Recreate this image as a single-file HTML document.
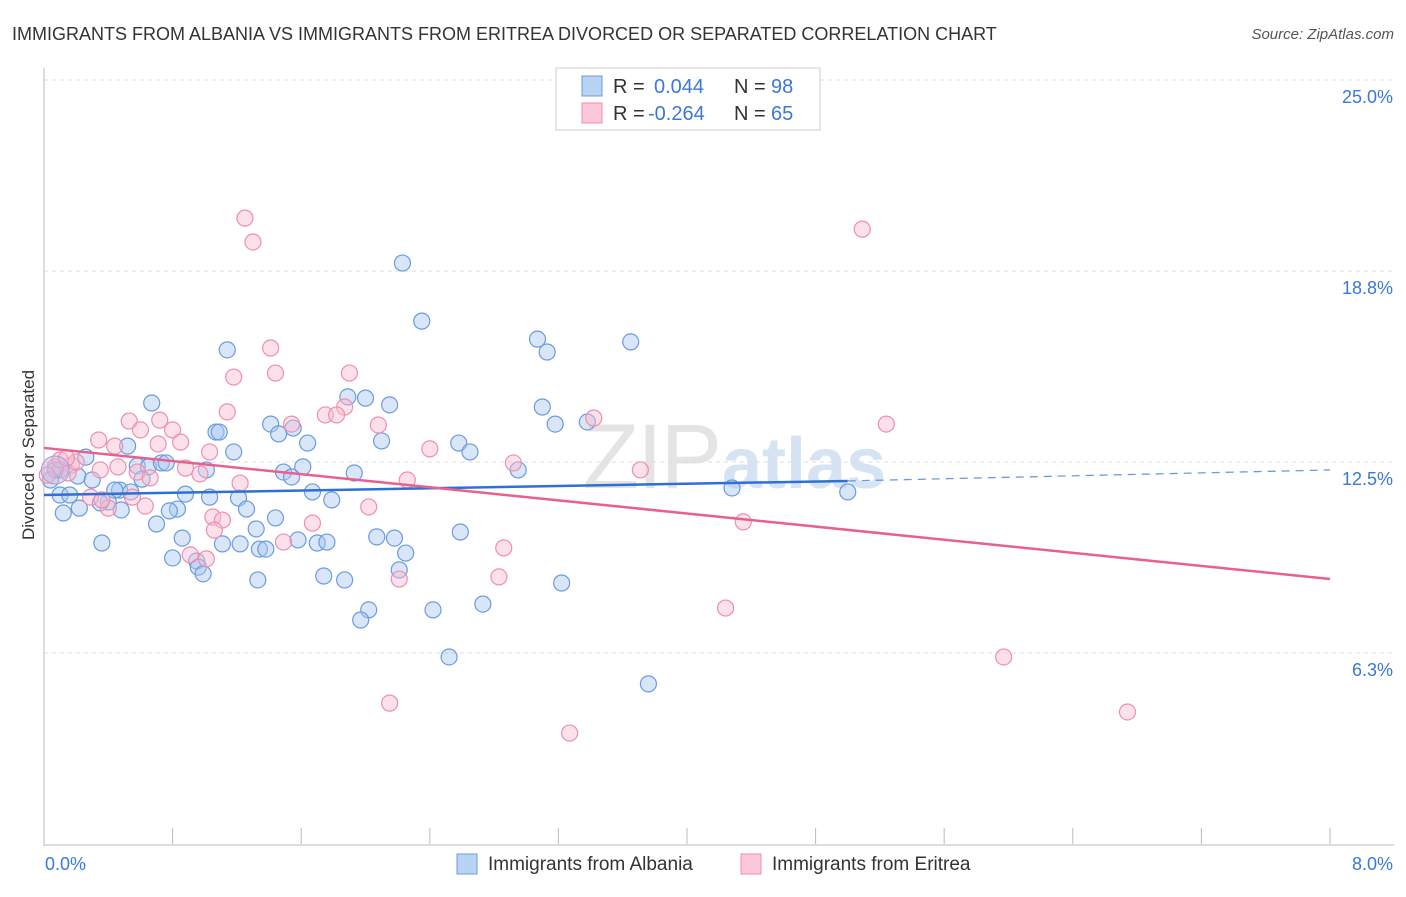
<!DOCTYPE html>
<html><head><meta charset="utf-8">
<style>
body{margin:0;background:#fff;font-family:"Liberation Sans",sans-serif;}
svg text{font-family:"Liberation Sans",sans-serif;}
</style></head>
<body>
<svg id="chart" width="1406" height="892" xmlns="http://www.w3.org/2000/svg">
<text x="12" y="40" font-size="18" fill="#333">IMMIGRANTS FROM ALBANIA VS IMMIGRANTS FROM ERITREA DIVORCED OR SEPARATED CORRELATION CHART</text>
<text x="1394" y="39" font-size="15" fill="#555" font-style="italic" text-anchor="end">Source: ZipAtlas.com</text>
<text x="34" y="455" font-size="17" fill="#333" text-anchor="middle" transform="rotate(-90 34 455)">Divorced or Separated</text>
<g><text x="720" y="488" font-size="92" fill="#e4e4e4" text-anchor="end" font-family="Liberation Serif" letter-spacing="-2">ZIP</text><text x="722" y="488" font-size="72" fill="#d6e3f3" font-weight="bold">atlas</text></g>
<g id="grid"></g>
<g id="axes"></g>
<g id="points"></g>
<g id="trends"></g>
<g>
<rect x="556" y="68" width="264" height="62" fill="#fff" stroke="#ccc"/>
<rect x="582" y="76" width="20" height="20" fill="#b8d3f4" stroke="#6a9be0"/>
<rect x="582" y="103" width="20" height="20" fill="#fac8d8" stroke="#ee8fb0"/>
<text x="613" y="93" font-size="20" fill="#333">R = </text><text x="654" y="93" font-size="20" fill="#3b78d8">0.044</text>
<text x="734" y="93" font-size="20" fill="#333">N = </text><text x="771" y="93" font-size="20" fill="#3b78d8">98</text>
<text x="613" y="120" font-size="20" fill="#333">R = </text><text x="648" y="120" font-size="20" fill="#3b78d8">-0.264</text>
<text x="734" y="120" font-size="20" fill="#333">N = </text><text x="771" y="120" font-size="20" fill="#3b78d8">65</text>
</g>
<g>
<rect x="457" y="854" width="20" height="20" fill="#b8d3f4" stroke="#6a9be0"/>
<text x="488" y="870" font-size="19" fill="#333">Immigrants from Albania</text>
<rect x="741" y="854" width="20" height="20" fill="#fac8d8" stroke="#ee8fb0"/>
<text x="772" y="870" font-size="19" fill="#333">Immigrants from Eritrea</text>
</g>
</svg>
<script>
const albaniaX=[2.23,2.35,1.14,3.07,3.13,3.65,0.67,1.89,2.00,2.15,3.10,3.18,3.38,1.41,1.46,1.55,1.07,1.09,1.64,2.10,2.58,2.65,1.18,0.52,0.26,0.58,0.65,0.73,0.76,1.61,1.93,2.95,1.49,1.54,1.01,0.10,0.21,0.30,0.61,0.47,0.44,0.54,0.88,1.67,0.10,1.03,1.21,1.79,4.28,5.00,0.40,0.35,0.22,0.12,0.48,0.83,0.78,1.26,1.44,0.70,1.32,2.59,2.07,2.18,1.58,0.86,0.36,1.11,1.22,1.34,1.38,1.70,1.76,2.25,0.80,0.95,0.96,0.99,2.21,1.74,1.87,1.33,3.22,2.73,2.42,2.02,1.97,2.52,3.76,0.07,0.04,0.16];
const albaniaY=[19.01,17.11,16.17,16.52,16.10,16.43,14.43,14.63,14.59,14.37,14.30,13.74,13.81,13.74,13.42,13.61,13.48,13.48,13.12,13.19,13.12,12.83,12.83,13.02,12.66,12.37,12.34,12.47,12.47,12.34,12.14,12.24,12.17,12.01,12.24,12.24,12.04,11.91,11.94,11.58,11.58,11.52,11.45,11.52,11.42,11.35,11.32,11.26,11.65,11.52,11.19,11.16,10.99,10.83,10.93,10.96,10.90,10.96,10.67,10.47,10.31,10.21,10.05,10.01,9.95,10.01,9.85,9.82,9.82,9.65,9.65,9.85,9.88,9.52,9.36,9.26,9.06,8.84,8.97,8.77,8.64,8.64,8.54,7.85,7.66,7.66,7.33,6.12,5.24,12.24,11.91,11.42];
const eritreaX=[1.25,1.30,5.09,1.41,1.44,1.18,1.90,1.87,1.14,1.75,1.82,1.54,2.08,3.42,5.24,0.53,0.72,0.60,0.80,0.34,0.85,0.44,0.71,1.03,2.40,2.92,3.71,0.46,0.58,0.66,0.97,1.22,2.26,0.17,0.15,0.35,0.20,0.07,0.29,0.40,0.63,2.02,1.05,1.11,1.06,1.67,4.35,1.49,2.86,0.91,1.01,2.83,2.21,4.24,5.97,2.15,3.27,6.74,0.10,0.02,0.14,0.36,0.88,0.55];
const eritreaY=[20.48,19.70,20.12,16.23,15.41,15.28,15.41,14.30,14.14,14.04,14.04,13.74,13.71,13.94,13.74,13.84,13.87,13.55,13.55,13.22,13.15,13.02,13.09,12.83,12.93,12.47,12.24,12.34,12.17,11.98,12.11,11.81,11.91,12.40,12.14,12.24,12.50,12.34,11.35,10.99,11.06,11.03,10.70,10.60,10.27,10.50,10.54,9.88,9.69,9.46,9.33,8.74,8.67,7.72,6.12,4.61,3.63,4.32,12.57,12.07,12.63,11.26,12.30,11.35];
const albaniaTrendX=[0,5.0,8.0];
const albaniaTrendY=[11.42,11.88,12.24];
const eritreaTrendX=[0,8.0];
const eritreaTrendY=[12.96,8.67];
const yTickValues=[25.0,18.75,12.5,6.25];
const yTickLabels=["25.0%","18.8%","12.5%","6.3%"];
const xTickValues=[0,0.8,1.6,2.4,3.2,4.0,4.8,5.6,6.4,7.2,8.0];

const NS="http://www.w3.org/2000/svg";
const X0=44,X1=1330,Y0=844,YT=80;
const sx=v=>X0+v*(X1-X0)/8;
const sy=v=>Y0-v*(Y0-YT)/25;
function mk(tag,attrs,parent){const e=document.createElementNS(NS,tag);for(const k in attrs)e.setAttribute(k,attrs[k]);parent.appendChild(e);return e;}
const grid=document.getElementById('grid'),axes=document.getElementById('axes'),pts=document.getElementById('points'),tr=document.getElementById('trends');
yTickValues.forEach((v,i)=>{
  const l=mk('line',{x1:X0,x2:1394,y1:sy(v),y2:sy(v),stroke:'#ddd','stroke-dasharray':'4,4'},grid);
  
  
  const t=mk('text',{x:1393,y:sy(v)+23,'font-size':18,fill:'#3b78d8','text-anchor':'end'},axes);
  t.textContent=yTickLabels[i];
  
  
});
const ax=mk('line',{x1:X0,x2:X0,y1:68,y2:Y0+2,stroke:'#bbb'},axes);


const bx=mk('line',{x1:X0,x2:1394,y1:Y0+1,y2:Y0+1,stroke:'#bbb'},axes);


xTickValues.forEach(v=>{
  const l=mk('line',{x1:sx(v),x2:sx(v),y1:828,y2:Y0,stroke:'#bbb'},axes);
  
  
});
const xl=mk('text',{x:45,y:870,'font-size':18,fill:'#3b78d8'},axes);xl.textContent='0.0%';


const xr=mk('text',{x:1393,y:870,'font-size':18,fill:'#3b78d8','text-anchor':'end'},axes);xr.textContent='8.0%';


function dots(xs,ys,fill,stroke,name){xs.forEach((x,i)=>{
  const c=mk('circle',{cx:sx(x),cy:sy(ys[i]),r:8,fill:fill,'fill-opacity':0.45,stroke:stroke,'stroke-width':1.2},pts);
  
  
});}
dots(albaniaX,albaniaY,'#a9c8f0','#6a9be0','albania-point');
dots(eritreaX,eritreaY,'#f9bcd0','#ee8fb0','eritrea-point');
const big=mk('circle',{cx:sx(albaniaX[89]),cy:sy(albaniaY[89]),r:14,fill:'#c9b8e0','fill-opacity':0.5,stroke:'#b09ad0'},pts);


const b1=mk('line',{x1:sx(albaniaTrendX[0]),y1:sy(albaniaTrendY[0]),x2:sx(albaniaTrendX[1]),y2:sy(albaniaTrendY[1]),stroke:'#2f6fd6','stroke-width':2.5},tr);


const b2=mk('line',{x1:sx(albaniaTrendX[1]),y1:sy(albaniaTrendY[1]),x2:sx(albaniaTrendX[2]),y2:sy(albaniaTrendY[2]),stroke:'#6a9be0','stroke-width':1.3,'stroke-dasharray':'8,6'},tr);


const p1=mk('line',{x1:sx(eritreaTrendX[0]),y1:sy(eritreaTrendY[0]),x2:sx(eritreaTrendX[1]),y2:sy(eritreaTrendY[1]),stroke:'#e8608e','stroke-width':2.5},tr);


</script>
</body></html>
